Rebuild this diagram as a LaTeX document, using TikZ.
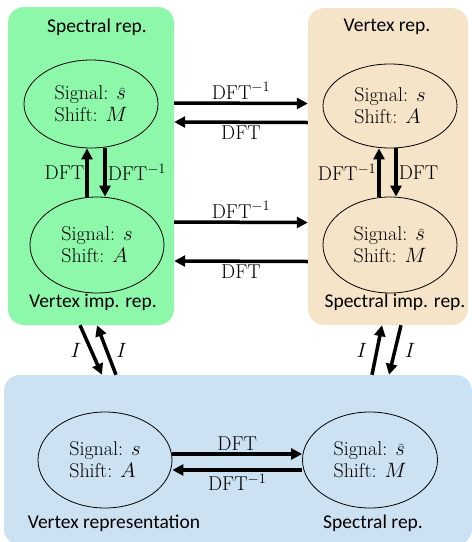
\documentclass[tikz,border=0pt]{standalone}
\usepackage{fontspec}
\newfontfamily\labfont{Carlito}
\usetikzlibrary{shapes.geometric,arrows.meta,calc}
\definecolor{gfill}{RGB}{142,248,170}
\definecolor{tfill}{RGB}{245,228,200}
\definecolor{bfill}{RGB}{204,225,241}
\begin{document}
\begin{tikzpicture}[x=1pt,y=-1pt,
  box/.style={rectangle,draw=none,rounded corners=16pt,inner sep=0pt},
  ell/.style={draw,ellipse,line width=0.8pt,inner sep=0pt,align=left,font=\fontsize{20}{22}\selectfont},
  arr/.style={line width=3.5pt,-{Triangle[length=11pt,width=11pt]}},
  lab/.style={font=\fontsize{20}{22}\selectfont,inner sep=2pt},
  title/.style={font=\labfont\fontsize{19.5}{22}\selectfont,inner sep=0pt}]
\useasboundingbox (0,0) rectangle (472,542);
% boxes
\node[box,fill=gfill,minimum width=166pt,minimum height=318pt] (gbox) at (91,166) {};
\node[box,fill=tfill,minimum width=160pt,minimum height=317pt] (tbox) at (388,166.5) {};
\node[box,fill=bfill,minimum width=468pt,minimum height=170pt] (bbox) at (238,460) {};
% titles
\node[title] (t1) at (97,27) {Spectral rep.};
\node[title] (t2) at (93,302) {Vertex imp. rep.};
\node[title] (t3) at (387,27) {Vertex rep.};
\node[title] (t4) at (395,302) {Spectral imp. rep.};
\node[title] (t5) at (114,523) {Vertex representation};
\node[title] (t6) at (373,523) {Spectral rep.};
% ellipses
\node[ell,minimum width=134pt,minimum height=88pt] (ga) at (91,104) {Signal: $\widehat{s}$\\Shift: $M$};
\node[ell,minimum width=134pt,minimum height=96pt] (gb) at (97,245) {Signal: $s$\\Shift: $A$};
\node[ell,minimum width=134pt,minimum height=84pt] (ta) at (390,106) {Signal: $s$\\Shift: $A$};
\node[ell,minimum width=134pt,minimum height=96pt] (tb) at (390,245) {Signal: $\widehat{s}$\\Shift: $M$};
\node[ell,minimum width=134pt,minimum height=96pt] (bl) at (105,460) {Signal: $s$\\Shift: $A$};
\node[ell,minimum width=135pt,minimum height=96pt] (br) at (370,460) {Signal: $\widehat{s}$\\Shift: $M$};
% horizontal arrows between upper boxes
\draw[arr] ([yshift=63pt]gbox.east) -- node[lab,above]{DFT$^{-1}$} ([yshift=63pt]tbox.west);
\draw[arr] ([yshift=44pt]tbox.west) -- node[lab,below]{DFT} ([yshift=44pt]gbox.east);
\draw[arr] ([yshift=-56pt]gbox.east) -- node[lab,above]{DFT$^{-1}$} ([yshift=-56pt]tbox.west);
\draw[arr] ([yshift=-95pt]tbox.west) -- node[lab,below]{DFT} ([yshift=-95pt]gbox.east);
% vertical arrows in green box
\draw[arr] ([xshift=-10pt]gb.north) -- node[lab,left,inner sep=1pt]{DFT} ([xshift=-4pt]ga.south);
\draw[arr] ([xshift=14pt]ga.south) -- node[lab,right,inner sep=1pt]{DFT$^{-1}$} ([xshift=8pt]gb.north);
% vertical arrows in tan box
\draw[arr] ([xshift=-11pt]tb.north) -- node[lab,left,inner sep=1pt]{DFT$^{-1}$} ([xshift=-11pt]ta.south);
\draw[arr] ([xshift=6pt]ta.south) -- node[lab,right,inner sep=1pt]{DFT} ([xshift=6pt]tb.north);
% I arrows
\draw[arr] ([xshift=-11pt]gbox.south) -- node[lab,left=6pt]{$I$} ([xshift=-136pt]bbox.north);
\draw[arr] ([xshift=-122pt]bbox.north) -- node[lab,right=6pt]{$I$} ([xshift=6pt]gbox.south);
\draw[arr] ([xshift=134pt]bbox.north) -- node[lab,left=6pt]{$I$} ([xshift=-6pt]tbox.south);
\draw[arr] ([xshift=13pt]tbox.south) -- node[lab,right=6pt]{$I$} ([xshift=151pt]bbox.north);
% blue arrows
\draw[arr] ([yshift=6pt]bl.east) -- node[lab,above]{DFT} ([yshift=6pt]br.west);
\draw[arr] ([yshift=-10pt]br.west) -- node[lab,below]{DFT$^{-1}$} ([yshift=-10pt]bl.east);
\end{tikzpicture}
\end{document}
